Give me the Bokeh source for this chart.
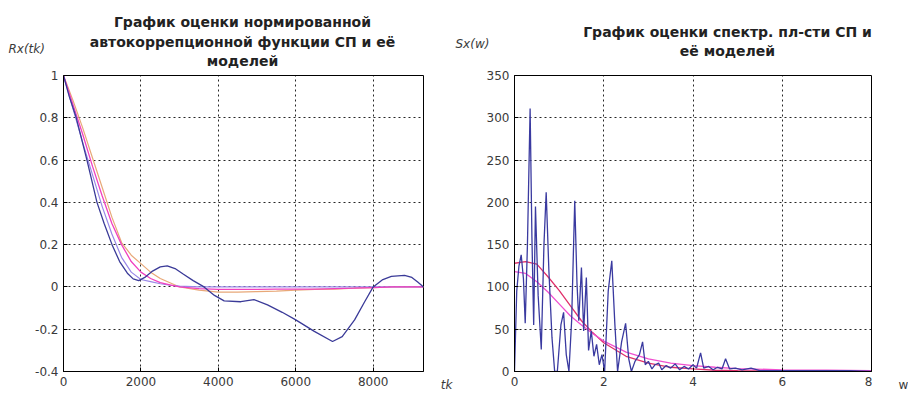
from bokeh.plotting import figure
from bokeh.layouts import row, column
from bokeh.models import Range1d, FixedTicker, LinearAxis, CustomJSTickFormatter
from bokeh.core.properties import value
from bokeh.embed import file_html
from bokeh.resources import INLINE

# ---------------- left chart data: normalized autocorrelation ----------------
t_est = [0, 150, 330, 606, 865, 1050, 1254, 1450, 1650, 1800, 1943, 2100, 2300,
         2500, 2680, 2900, 3100, 3350, 3630, 3900, 4150, 4580, 4920, 5270, 5650,
         6000, 6480, 6950, 7200, 7520, 7780, 8000, 8250, 8470, 8810, 9000, 9150, 9300]
r_est = [1.0, 0.9, 0.8, 0.6, 0.4, 0.3, 0.2, 0.12, 0.065, 0.038, 0.03, 0.045, 0.075,
         0.095, 0.10, 0.085, 0.06, 0.03, 0.0, -0.04, -0.066, -0.07, -0.06, -0.085, -0.12,
         -0.156, -0.21, -0.258, -0.235, -0.156, -0.07, 0.0, 0.035, 0.05, 0.055, 0.045, 0.023, 0.0]

t_mod = [0, 250, 500, 750, 1000, 1250, 1500, 1750, 2000, 2250, 2500, 2750, 3000,
         3500, 4000, 4500, 5000, 5500, 6000, 6500, 7000, 7500, 8000, 8500, 9000, 9300]
r_mod1 = [1.0, 0.88, 0.75, 0.61, 0.47, 0.33, 0.21, 0.15, 0.11, 0.07, 0.04, 0.02, 0.0,
          -0.015, -0.025, -0.025, -0.022, -0.02, -0.015, -0.012, -0.01, -0.006, -0.003, 0.0, 0.0, 0.0]
r_mod2 = [1.0, 0.86, 0.72, 0.57, 0.43, 0.30, 0.20, 0.12, 0.07, 0.04, 0.02, 0.01, 0.0,
          -0.008, -0.012, -0.012, -0.012, -0.01, -0.01, -0.01, -0.008, -0.006, -0.003, 0.0, 0.0, 0.0]
r_mod3 = [1.0, 0.84, 0.68, 0.53, 0.38, 0.25, 0.14, 0.07, 0.035, 0.025, 0.015, 0.008, 0.004,
          0.0, 0.0, 0.0, 0.0, 0.0, 0.0, 0.0, 0.0, 0.0, 0.0, 0.0, 0.0, 0.0]

left_xticks = [0, 2000, 4000, 6000, 8000]
left_yticks = [-0.4, -0.2, 0, 0.2, 0.4, 0.6, 0.8, 1]
left_title = ["График оценки нормированной", "автокоррепционной функции СП и её", "моделей"]
left_ylabel = "Rx(tk)"
left_xlabel = "tk"

# ---------------- right chart data: spectral density ----------------
w_est = [0.00, 0.05, 0.10, 0.15, 0.20, 0.24, 0.29, 0.35, 0.39, 0.43, 0.47, 0.53, 0.60,
         0.66, 0.71, 0.77, 0.84, 0.90, 0.96, 1.04, 1.10, 1.16, 1.22, 1.28, 1.35, 1.40,
         1.44, 1.50, 1.55, 1.61, 1.66, 1.72, 1.78, 1.84, 1.90, 1.96, 2.02, 2.10, 2.18,
         2.25, 2.31, 2.40, 2.49, 2.56, 2.62, 2.70, 2.80, 2.87, 2.93, 3.00, 3.08, 3.15,
         3.23, 3.30, 3.40, 3.50, 3.60, 3.70, 3.80, 3.90, 4.00, 4.08, 4.17, 4.24, 4.35,
         4.45, 4.55, 4.65, 4.73, 4.82, 4.95, 5.10, 5.30, 5.50, 6.00, 6.50, 7.00, 7.50, 8.00]
s_est = [0, 95, 125, 138, 110, 57, 150, 311, 160, 55, 195, 90, 26,
         150, 212, 120, 40, 0, 0, 55, 70, 20, 0, 60, 202, 105,
         60, 123, 48, 111, 25, 48, 18, 32, 8, 20, 0, 95, 131,
         55, 0, 35, 57, 15, 0, 12, 20, 35, 8, 12, 3, 8,
         10, 2, 7, 4, 9, 2, 6, 3, 8, 4, 22, 4, 6,
         2, 5, 3, 15, 3, 4, 2, 4, 1, 1, 1, 1, 1, 0]

w_mod = [0, 0.25, 0.5, 0.75, 1.0, 1.25, 1.5, 1.75, 2.0, 2.5, 3.0, 3.5, 4.0, 4.5, 5.0, 6.0, 7.0, 8.0]
s_mod1 = [128, 130, 127, 112, 96, 78, 60, 46, 34, 18, 10, 5, 3, 1.5, 1, 0.5, 0.3, 0]
s_mod2 = [118, 116, 106, 94, 80, 66, 55, 45, 36, 23, 15, 10, 7, 5, 3.5, 2, 1.5, 1]

right_xticks = [0, 2, 4, 6, 8]
right_yticks = [0, 50, 100, 150, 200, 250, 300, 350]
right_title = ["График оценки спектр. пл-сти СП и", "её моделей"]
right_ylabel = "Sx(w)"
right_xlabel = "w"

FONT = "DejaVu Sans"
TICK_COLOR = "#3a3a3a"
TITLE_H = 70
CHART_H = 396 - TITLE_H


def style(p):
    p.outline_line_color = "black"
    p.outline_line_width = 1
    p.background_fill_color = "white"
    p.border_fill_color = "white"
    for ax in (p.xaxis, p.yaxis):
        ax.axis_line_color = "black"
        ax.major_tick_in = 4
        ax.major_tick_out = 0
        ax.minor_tick_line_color = None
        ax.major_tick_line_color = "black"
        ax.major_label_text_font = FONT
        ax.major_label_text_font_size = "12px"
        ax.major_label_text_color = TICK_COLOR
        ax.major_label_standoff = 5
    for g in (p.xgrid, p.ygrid):
        g.grid_line_color = "black"
        g.grid_line_dash = "2 3"
        g.grid_line_alpha = 0.85
        g.grid_line_width = 1


def blank(width, height):
    f = figure(width=width, height=height, output_backend="svg", toolbar_location=None,
               x_range=Range1d(0, width), y_range=Range1d(height, 0),
               x_axis_type=None, y_axis_type=None,
               min_border=0, min_border_left=0, min_border_right=0,
               min_border_top=0, min_border_bottom=0)
    f.grid.visible = False
    f.outline_line_color = None
    f.background_fill_color = "white"
    f.border_fill_color = "white"
    return f


def put(f, x, y, txt, size, style_="normal", align="left", color=TICK_COLOR):
    f.text(x=[x], y=[y], text=[txt], text_font=value(FONT), text_font_size=size,
           text_font_style=style_, text_align=align, text_baseline="alphabetic",
           text_color=color)


def axis_label_panel(width, height, pos, txt, italic):
    # narrow panel whose own bottom axis carries the axis name on the tick-label row
    f = blank(width, height)
    ax = LinearAxis(ticker=FixedTicker(ticks=[pos]),
                    formatter=CustomJSTickFormatter(code="return %r;" % txt),
                    axis_line_color=None, major_tick_line_color=None, minor_tick_line_color=None,
                    major_tick_in=0, major_tick_out=0, minor_tick_in=0, minor_tick_out=0,
                    major_label_text_font=FONT, major_label_text_font_size="12px",
                    major_label_text_color=TICK_COLOR, major_label_standoff=6,
                    major_label_text_font_style=("italic" if italic else "normal"))
    f.add_layout(ax, "below")
    return f


# ---------------- title band (top) ----------------
band = blank(908, TITLE_H)
for txt, yb in zip(left_title, [21.7, 41.5, 60]):
    put(band, 242, yb, txt, "14px", "bold", "center", "#222222")
for txt, yb in zip(right_title, [31.7, 50]):
    put(band, 727, yb, txt, "14px", "bold", "center", "#222222")
put(band, 8, 48, left_ylabel, "12px", "italic")
put(band, 455, 43, right_ylabel, "12px", "italic")

# ---------------- left chart ----------------
p1 = figure(width=424, height=CHART_H, output_backend="svg", toolbar_location=None,
            x_range=Range1d(0, 9300), y_range=Range1d(-0.4, 1.0),
            min_border_left=63, min_border_right=1, min_border_top=5, min_border_bottom=24)
style(p1)
p1.xaxis.ticker = FixedTicker(ticks=left_xticks)
p1.yaxis.ticker = FixedTicker(ticks=left_yticks)
p1.yaxis.formatter = CustomJSTickFormatter(code="return String(Math.round(tick * 10) / 10);")

p1.line(t_mod, r_mod1, line_color="#e8a878", line_width=1.2)
p1.line(t_mod, r_mod3, line_color="#9a88e8", line_width=1.2)
p1.line(t_mod, r_mod2, line_color="#f040c0", line_width=1.3)
p1.line(t_est, r_est, line_color="#3a3a98", line_width=1.3)

tkp = axis_label_panel(30, CHART_H, 22, left_xlabel, True)

# ---------------- right chart ----------------
p2 = figure(width=418, height=CHART_H, output_backend="svg", toolbar_location=None,
            x_range=Range1d(0, 8), y_range=Range1d(0, 350),
            min_border_left=60, min_border_right=1, min_border_top=5, min_border_bottom=25)
style(p2)
p2.xaxis.ticker = FixedTicker(ticks=right_xticks)
p2.yaxis.ticker = FixedTicker(ticks=right_yticks)

p2.line(w_mod, s_mod1, line_color="#e0306a", line_width=1.3)
p2.line(w_mod, s_mod2, line_color="#f050d0", line_width=1.3)
p2.line(w_est, s_est, line_color="#3a3aa0", line_width=1.3)

wp = axis_label_panel(36, CHART_H, 31, right_xlabel, False)

layout = column(band, row(p1, tkp, p2, wp, spacing=0), spacing=0)
open("out.html", "w").write(file_html(layout, INLINE))
